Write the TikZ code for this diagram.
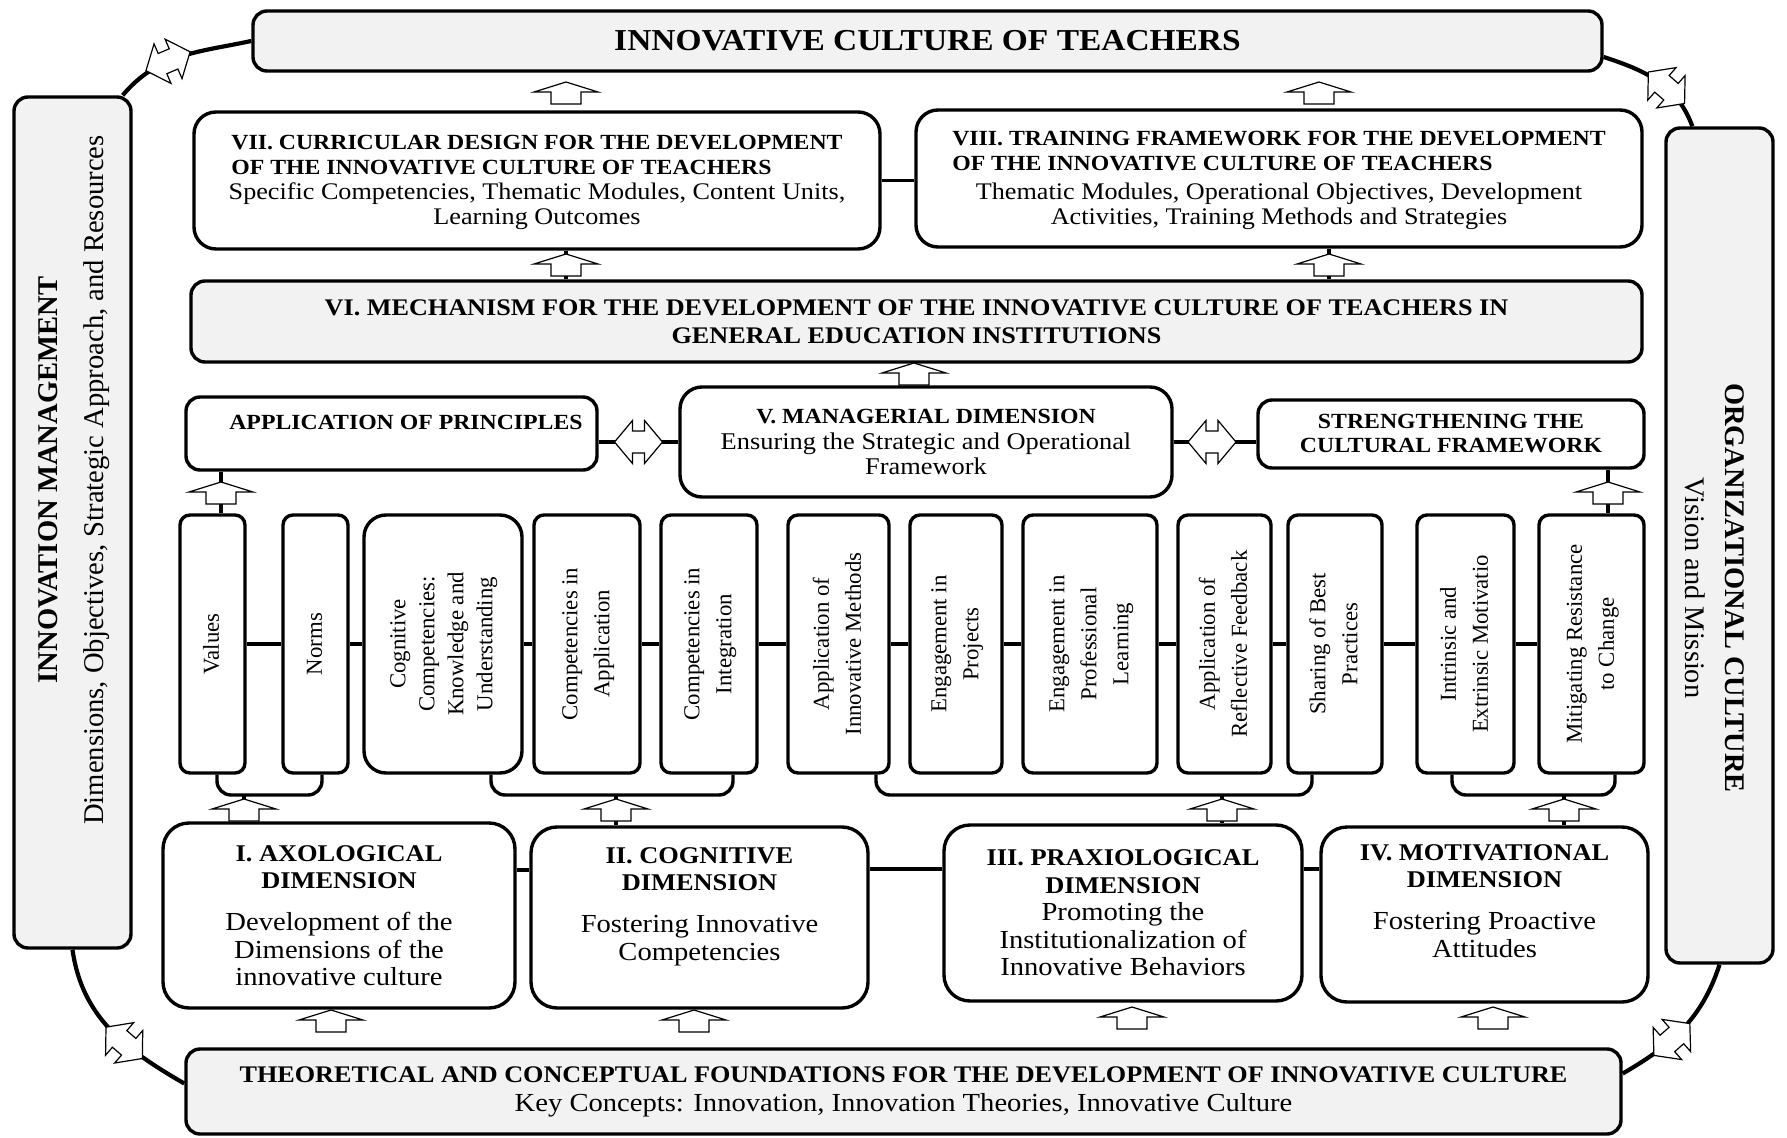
\documentclass[tikz,border=0pt]{standalone}
\usepackage{fontspec}
\setmainfont{Liberation Serif}[FakeStretch=1.1]
\newfontfamily\rotfont{Liberation Serif}
\usepackage{graphicx}
\usetikzlibrary{decorations.markings}
\definecolor{boxgray}{HTML}{F2F2F2}
\newcommand{\vt}[1]{\rotatebox{90}{\begin{tabular}{@{}c@{}}#1\end{tabular}}}
\newcommand{\dimhead}[1]{{\bfseries\fontsize{12}{13.75}\selectfont #1}}

\begin{document}
\begin{tikzpicture}[x=0.5pt,y=0.5pt]
   \tikzstyle{bx}=[draw,line width=1.7pt,inner sep=0pt]
   \tikzstyle{gbox}=[bx,fill=boxgray,rounded corners=7pt]
   \tikzstyle{wbox}=[bx,fill=white,rounded corners=11pt,align=center]
   \tikzstyle{sbox}=[bx,fill=white,rounded corners=7pt]
   \tikzstyle{dimbox}=[bx,fill=white,rounded corners=13pt,align=center,font=\fontsize{13}{13.75}\selectfont]
   \tikzstyle{vb}=[bx,fill=white,rounded corners=5pt,minimum height=129pt,font=\rotfont\fontsize{11.4}{16}\selectfont]
   \tikzstyle{con}=[line width=1.7pt]
   \tikzstyle{brk}=[con,rounded corners=7pt]
   \tikzstyle{arrl}=[draw,fill=white,line width=0.6pt]
   \tikzset{
      uparr/.pic={\path[arrl] (0,11) -- (32,1) -- (15,1) -- (15,-11) -- (-15,-11) -- (-15,1) -- (-32,1) -- cycle;},
      dblarr/.pic={\path[arrl] (-24,0) -- (-6,21.5) -- (-6,11) -- (6,11) -- (6,21.5) -- (24,0) -- (6,-21.5) -- (6,-11) -- (-6,-11) -- (-6,-21.5) -- cycle;}
   }
   \tikzstyle{loopl}=[line width=2.1pt,postaction={decorate},
      decoration={markings,mark=at position 0.6 with {\pic[transform shape]{dblarr};}}]

   \path[fill=white] (0,0) rectangle (1787,1137);
   \useasboundingbox (0,0) rectangle (1787,1137);

   \node (top) [gbox,minimum width=674.5pt,minimum height=30pt,font=\bfseries\fontsize{15.2}{18}\selectfont] at (927.5,1096) {INNOVATIVE CULTURE OF TEACHERS};
   \node (mgmt) [gbox,minimum width=58.5pt,minimum height=425.5pt] at (72.5,614.5) {};
   \node (mgmtt) [rotate=90,align=center,font=\rotfont\fontsize{14.3}{23}\selectfont] at (74,657)
      {\textbf{INNOVATION MANAGEMENT}\\Dimensions, Objectives, Strategic Approach, and Resources};
   \node (org) [gbox,minimum width=53.5pt,minimum height=417.5pt] at (1719.5,591.5) {};
   \node (orgt) [rotate=-90,align=center,font=\rotfont\fontsize{14.2}{20}\selectfont] at (1715,549)
      {\textbf{ORGANIZATIONAL CULTURE}\\Vision and Mission};
   \node (found) [gbox,minimum width=717.5pt,minimum height=42.5pt,align=center,font=\fontsize{13}{14.5}\selectfont] at (903.5,45.5)
      {{\bfseries\fontsize{11.9}{14.5}\selectfont THEORETICAL AND CONCEPTUAL FOUNDATIONS FOR THE DEVELOPMENT OF INNOVATIVE CULTURE}\\
       Key Concepts: Innovation, Innovation Theories, Innovative Culture};

   \node (cur) [wbox,minimum width=343pt,minimum height=68.5pt,font=\fontsize{11.9}{12.5}\selectfont] at (537,956.5)
      {{\bfseries\fontsize{10.8}{12.5}\selectfont\begin{tabular}[b]{@{}l@{}}VII. CURRICULAR DESIGN FOR THE DEVELOPMENT\\OF THE INNOVATIVE CULTURE OF TEACHERS\end{tabular}}\\
       Specific Competencies, Thematic Modules, Content Units,\\Learning Outcomes};
   \node (trn) [wbox,minimum width=363pt,minimum height=68.5pt,font=\fontsize{11.9}{12.5}\selectfont] at (1279,958.5)
      {{\bfseries\fontsize{10.8}{12.5}\selectfont\begin{tabular}[b]{@{}l@{}}VIII. TRAINING FRAMEWORK FOR THE DEVELOPMENT\\OF THE INNOVATIVE CULTURE OF TEACHERS\end{tabular}}\\[2pt]
       Thematic Modules, Operational Objectives, Development\\Activities, Training Methods and Strategies};
   \node (mech) [gbox,minimum width=725.5pt,minimum height=40.5pt,align=center,font=\bfseries\fontsize{11.9}{14}\selectfont] at (916.5,815.5)
      {VI. MECHANISM FOR THE DEVELOPMENT OF THE INNOVATIVE CULTURE OF TEACHERS IN\\GENERAL EDUCATION INSTITUTIONS};

   \node (prin) [sbox,minimum width=205.5pt,minimum height=36.5pt] at (391.5,703.5) {};
   \node (print) [font=\bfseries\fontsize{10.8}{12}\selectfont] at (406,715) {APPLICATION OF PRINCIPLES};
   \node (man) [wbox,minimum width=246pt,minimum height=55pt,font=\fontsize{12}{12.75}\selectfont] at (926,695)
      {{\bfseries\fontsize{10.8}{12.75}\selectfont V. MANAGERIAL DIMENSION}\\Ensuring the Strategic and Operational\\Framework};
   \node (strn) [sbox,minimum width=193pt,minimum height=34pt,align=center,font=\bfseries\fontsize{10.8}{12}\selectfont] at (1451,703)
      {STRENGTHENING THE\\CULTURAL FRAMEWORK};

   \node (v1) [vb,minimum width=32.5pt] at (212.5,493) {\vt{Values}};
   \node (v2) [vb,minimum width=32.5pt] at (315.5,493) {\vt{Norms}};
   \node (v3) [vb,minimum width=79pt,rounded corners=11pt,font=\rotfont\fontsize{11.4}{14.5}\selectfont] at (443,493)
      {\vt{Cognitive\\Competencies:\\Knowledge and\\Understanding}};
   \node (v4) [vb,minimum width=53pt] at (587,493) {\vt{Competencies in\\Application}};
   \node (v5) [vb,minimum width=48pt] at (709,493) {\vt{Competencies in\\Integration}};
   \node (v6) [vb,minimum width=50.5pt] at (838.5,493) {\vt{Application of\\Innovative Methods}};
   \node (v7) [vb,minimum width=46pt] at (956,493) {\vt{Engagement in\\Projects}};
   \node (v8) [vb,minimum width=67pt] at (1090,493) {\vt{Engagement in\\Professional\\Learning}};
   \node (v9) [vb,minimum width=46.5pt] at (1224.5,493) {\vt{Application of\\Reflective Feedback}};
   \node (v10) [vb,minimum width=47pt] at (1335,493) {\vt{Sharing of Best\\Practices}};
   \node (v11) [vb,minimum width=48.5pt] at (1465.5,493) {\vt{Intrinsic and\\Extrinsic Motivatio}};
   \node (v12) [vb,minimum width=52.5pt] at (1591.5,493) {\vt{Mitigating Resistance\\to Change}};

   \node (d1) [dimbox,minimum width=176pt,minimum height=92.5pt] at (339,221.5)
      {\dimhead{I. AXOLOGICAL}\\\dimhead{DIMENSION}\\[7.25pt]Development of the\\Dimensions of the\\innovative culture};
   \node (d2) [dimbox,minimum width=168.5pt,minimum height=90.5pt] at (699.5,219.5)
      {\dimhead{II. COGNITIVE}\\\dimhead{DIMENSION}\\[7.25pt]Fostering Innovative\\Competencies\\ \mbox{}};
   \node (d3) [dimbox,minimum width=179pt,minimum height=88pt] at (1123,224)
      {\dimhead{III. PRAXIOLOGICAL}\\\dimhead{DIMENSION}\\Promoting the\\Institutionalization of\\Innovative Behaviors};
   \node (d4) [dimbox,minimum width=163.5pt,minimum height=87.5pt] at (1484.5,222.5)
      {\dimhead{IV. MOTIVATIONAL}\\\dimhead{DIMENSION}\\[7.25pt]Fostering Proactive\\Attitudes\\ \mbox{}};

   \draw [loopl] (top.west) to[out=192,in=50] ([xshift=-5pt]mgmt.north east);
   \draw [loopl] ([yshift=-8pt]top.east) to[out=-18,in=110] ([xshift=14pt]org.north west);
   \draw [loopl] (mgmt.south) to[out=-82,in=150] ([yshift=4pt]found.west);
   \draw [loopl] (org.south) to[out=252,in=30] ([yshift=9pt]found.east);

   \draw [con] (cur.east) -- (cur.east -| trn.west);
   \draw [con] (man.west) -- (man.west -| prin.east);
   \draw [con] (man.east) -- (man.east -| strn.west);
   \draw [con] (v1) -- (v2) -- (v3) -- (v4) -- (v5) -- (v6) -- (v7) -- (v8) -- (v9) -- (v10) -- (v11) -- (v12);
   \draw [con] ([yshift=22.75pt]d1.east) -- ([yshift=22.75pt]d1.east -| d2.west);
   \draw [con] ([yshift=24.25pt]d2.east) -- ([yshift=24.25pt]d2.east -| d3.west);
   \draw [con] ([yshift=22pt]d3.east) -- ([yshift=22pt]d3.east -| d4.west);

   \coordinate (a3) at (566,872);
   \coordinate (a4) at (1329,872);
   \coordinate (a6) at (221,644);
   \coordinate (a7) at (1608,644);
   \draw [con] (a3 |- cur.south) -- (a3 |- mech.north);
   \draw [con] (a4 |- trn.south) -- (a4 |- mech.north);
   \draw [con] (a6 |- prin.south) -- (a6 |- v1.north);
   \draw [con] (a7 |- strn.south) -- (a7 |- v12.north);

   \coordinate (b1) at (244,342);
   \coordinate (b2) at (616,342);
   \coordinate (b3) at (1222,342);
   \coordinate (b4) at (1564,342);
   \draw [brk] ([xshift=2.25pt]v1.south) |- (b1) -| ([xshift=3.25pt]v2.south);
   \draw [brk] ([xshift=24pt]v3.south) |- (b2) -| ([xshift=12pt]v5.south);
   \draw [brk] ([xshift=18.75pt]v6.south) |- (b3) -| ([xshift=-11.5pt]v10.south);
   \draw [brk] ([xshift=-6.75pt]v11.south) |- (b4) -| ([xshift=11.75pt]v12.south);
   \draw [con] (b1) -- (b1 |- d1.north);
   \draw [con] (b2) -- (b2 |- d2.north);
   \draw [con] (b3) -- (b3 |- d3.north);
   \draw [con] (b4) -- (b4 |- d4.north);

   \pic at (566,1044) {uparr};
   \pic at (1319,1044) {uparr};
   \pic at (a3) {uparr};
   \pic at (a4) {uparr};
   \pic at (914,763) {uparr};
   \pic at (a6) {uparr};
   \pic at (a7) {uparr};
   \pic at (244,327) {uparr};
   \pic at (616,327) {uparr};
   \pic at (1222,327) {uparr};
   \pic at (1564,327) {uparr};
   \pic at (331,116) {uparr};
   \pic at (694,116) {uparr};
   \pic at (1132,119) {uparr};
   \pic at (1493,119) {uparr};
   \pic at (638.5,695) {dblarr};
   \pic at (1212,695) {dblarr};
\end{tikzpicture}
\end{document}
